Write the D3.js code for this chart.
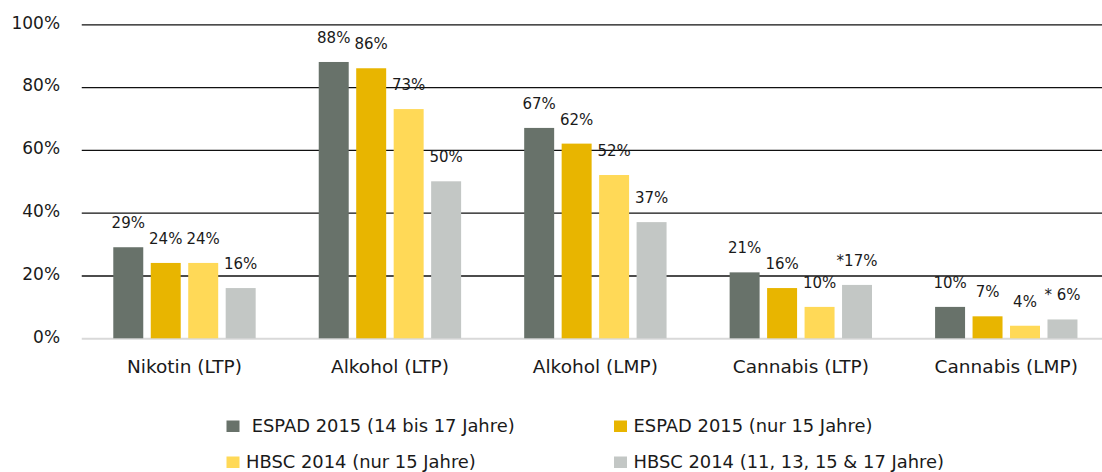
<!DOCTYPE html>
<html>
<head>
<meta charset="utf-8">
<script src="https://cdn.jsdelivr.net/npm/d3@7"></script>
<style>
  html, body { margin: 0; padding: 0; background: #ffffff; }
  svg { display: block; }
  text { font-family: "DejaVu Sans", sans-serif; fill: #1a1a1a; }
</style>
</head>
<body>
<svg id="chart" width="1102" height="472"></svg>
<script>
// Categories (LTP = Lebenszeitprävalenz, LMP = Letzte-Monats-Prävalenz)
const categories = ["Nikotin (LTP)", "Alkohol (LTP)", "Alkohol (LMP)", "Cannabis (LTP)", "Cannabis (LMP)"];

// Series values in percent
const espad1417 = [29, 88, 67, 21, 10];
const espad15   = [24, 86, 62, 16, 7];
const hbsc15    = [24, 73, 52, 10, 4];
const hbscAll   = [16, 50, 37, 17, 6];

// Footnote markers placed in front of single value labels
const hbscAllNotes = ["", "", "", "*", "* "];

const seriesNames = [
  " ESPAD 2015 (14 bis 17 Jahre)",
  "ESPAD 2015 (nur 15 Jahre)",
  "HBSC 2014 (nur 15 Jahre)",
  "HBSC 2014 (11, 13, 15 & 17 Jahre)"
];
const seriesColors = ["#68726a", "#e8b500", "#ffd957", "#c3c7c5"];

const yTicks = [0, 20, 40, 60, 80, 100];

const series = [
  { name: seriesNames[0], color: seriesColors[0], values: espad1417, notes: ["", "", "", "", ""] },
  { name: seriesNames[1], color: seriesColors[1], values: espad15,   notes: ["", "", "", "", ""] },
  { name: seriesNames[2], color: seriesColors[2], values: hbsc15,    notes: ["", "", "", "", ""] },
  { name: seriesNames[3], color: seriesColors[3], values: hbscAll,   notes: hbscAllNotes }
];

const svg = d3.select("#chart");

const plot = { left: 81.75, right: 1109, top: 24.3, bottom: 338.3 };

const x0 = d3.scaleBand()
  .domain(categories)
  .range([plot.left, plot.right])
  .paddingInner(0.307)
  .paddingOuter(0.1535);

const x1 = d3.scaleBand()
  .domain(series.map((s, i) => i))
  .range([0, x0.bandwidth()])
  .paddingInner(0.2);

const y = d3.scaleLinear().domain([0, 100]).range([plot.bottom, plot.top]);

// Horizontal grid + percent tick labels
const yAxis = svg.append("g")
  .attr("transform", `translate(${plot.left},0)`)
  .call(d3.axisLeft(y)
    .tickValues(yTicks)
    .tickFormat(d => d + "%")
    .tickSize(-(1102 - plot.left))
    .tickPadding(21.7));
yAxis.select(".domain").remove();
yAxis.selectAll(".tick line")
  .attr("stroke", d => d === 0 ? "#d9d9d9" : "#111111")
  .attr("stroke-width", d => d === 0 ? 2 : 1.3);
yAxis.selectAll(".tick text")
  .attr("dy", "0.22em")
  .style("font-size", "17px")
  .style("font-family", "'DejaVu Sans', sans-serif")
  .attr("fill", "#1a1a1a");

// Bars
const groups = svg.append("g").selectAll("g")
  .data(categories)
  .join("g")
  .attr("transform", d => `translate(${x0(d)},0)`);

groups.selectAll("rect")
  .data((c, ci) => series.map((s, si) => ({ si, v: s.values[ci], color: s.color })))
  .join("rect")
  .attr("x", d => x1(d.si))
  .attr("width", x1.bandwidth())
  .attr("y", d => y(d.v))
  .attr("height", d => y(0) - y(d.v))
  .attr("fill", d => d.color);

// Value labels above bars
groups.selectAll("text.value")
  .data((c, ci) => series.map((s, si) => ({ si, v: s.values[ci], note: s.notes[ci] })))
  .join("text")
  .attr("class", "value")
  .attr("x", d => x1(d.si) + x1.bandwidth() / 2)
  .attr("y", d => y(d.v) - 19)
  .attr("text-anchor", "middle")
  .style("font-size", "15px")
  .style("white-space", "pre")
  .text(d => d.note + d.v + "%");

// Category axis
const xAxis = svg.append("g")
  .attr("transform", `translate(0,${plot.bottom})`)
  .call(d3.axisBottom(x0).tickSize(0).tickPadding(21.8));
xAxis.select(".domain").remove();
xAxis.selectAll(".tick text")
  .style("font-size", "18.5px")
  .style("font-family", "'DejaVu Sans', sans-serif")
  .attr("fill", "#1a1a1a");

// Legend: two columns, two rows
const legendCols = [226.5, 614];
const legendRows = [432, 468];
const legend = svg.append("g").selectAll("g")
  .data(series)
  .join("g")
  .attr("transform", (d, i) => `translate(${legendCols[i % 2]},${legendRows[Math.floor(i / 2)]})`);

legend.append("rect")
  .attr("x", 0)
  .attr("y", -11.5)
  .attr("width", 13)
  .attr("height", 11.5)
  .attr("fill", d => d.color);

legend.append("text")
  .attr("x", 19.5)
  .attr("y", 0)
  .style("font-size", "17.9px")
  .style("white-space", "pre")
  .text(d => d.name);
</script>
</body>
</html>
